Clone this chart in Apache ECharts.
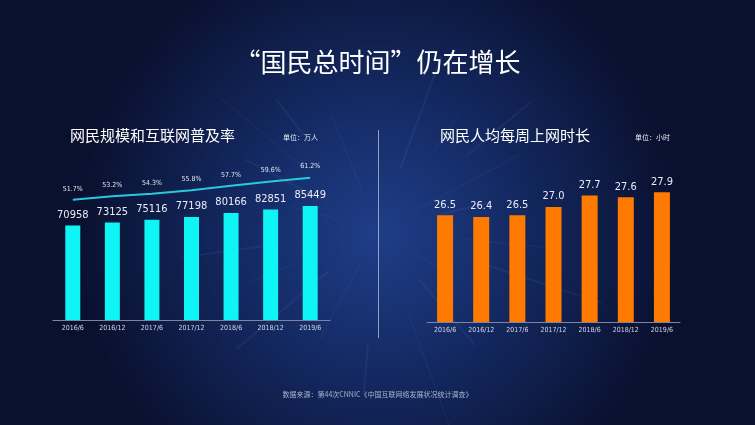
<!DOCTYPE html>
<html>
<head>
<meta charset="utf-8">
<script src="https://cdn.jsdelivr.net/npm/echarts@6/dist/echarts.min.js"></script>
<style>
  html, body { margin: 0; padding: 0; background: #0b1230; }
  #main { width: 755px; height: 425px; }
</style>
</head>
<body>
<div id="main"></div>
<script>
// 数据
const periods = ['2016/6', '2016/12', '2017/6', '2017/12', '2018/6', '2018/12', '2019/6'];
const netizens = [70958, 73125, 75116, 77198, 80166, 82851, 85449];   // 万人
const penetration = [51.7, 53.2, 54.3, 55.8, 57.7, 59.6, 61.2];      // %
const weeklyHours = [26.5, 26.4, 26.5, 27.0, 27.7, 27.6, 27.9];      // 小时

const chart = echarts.init(document.getElementById('main'));

const CJK = '"Noto Sans CJK SC", "Microsoft YaHei", sans-serif';
const NARROW = '"DejaVu Sans Condensed", "Liberation Sans Narrow", sans-serif';

// 背景放射线（装饰）
const streaks = [];
const cx = 378, cy = 230;
const angles = [-165, -152, -140, -128, -112, -70, -55, -40, -28, -14, 6, 18, 32, 50, 70, 95, 118, 140, 158, 172];
angles.forEach(function(a, i) {
    const r = a * Math.PI / 180;
    const r0 = 40 + (i % 4) * 25;
    const r1 = r0 + 50 + (i % 3) * 35;
    streaks.push({
        type: 'line',
        silent: true,
        z: -10,
        shape: {
            x1: cx + Math.cos(r) * r0, y1: cy + Math.sin(r) * r0,
            x2: cx + Math.cos(r) * r1, y2: cy + Math.sin(r) * r1
        },
        style: { stroke: 'rgba(150,190,255,0.07)', lineWidth: 1 + (i % 2) }
    });
});

const axisLabelStyle = {
    color: '#d0d6e6',
    fontSize: 7,
    fontFamily: NARROW,
    margin: 5,
    interval: 0
};

const option = {
    backgroundColor: {
        type: 'radial',
        x: 0.5, y: 0.55, r: 0.7,
        colorStops: [
            {offset: 0, color: '#1f3e88'},
            {offset: 0.45, color: '#142a64'},
            {offset: 1, color: '#0a1130'}
        ]
    },
    animation: false,
    title: [
        {
            text: '“国民总时间”仍在增长',
            left: 'center',
            top: 44,
            textStyle: {color: '#ffffff', fontSize: 26, fontWeight: 'normal', fontFamily: CJK}
        },
        {
            text: '网民规模和互联网普及率',
            left: 65,
            top: 123,
            textStyle: {color: '#ffffff', fontSize: 15, fontWeight: 'normal', fontFamily: CJK}
        },
        {
            text: '单位：万人',
            left: 278,
            top: 129,
            textStyle: {color: '#e6e9f2', fontSize: 7, fontWeight: 'normal', fontFamily: CJK}
        },
        {
            text: '网民人均每周上网时长',
            left: 435,
            top: 123,
            textStyle: {color: '#ffffff', fontSize: 15, fontWeight: 'normal', fontFamily: CJK}
        },
        {
            text: '单位：小时',
            left: 630,
            top: 129,
            textStyle: {color: '#e6e9f2', fontSize: 7, fontWeight: 'normal', fontFamily: CJK}
        },
        {
            text: '数据来源：第44次CNNIC《中国互联网络发展状况统计调查》',
            left: 'center',
            top: 386,
            textStyle: {color: '#aab3cc', fontSize: 7, fontWeight: 'normal', fontFamily: CJK}
        }
    ],
    graphic: streaks.concat([
        {
            type: 'line',
            silent: true,
            shape: {x1: 378.5, y1: 130, x2: 378.5, y2: 338},
            style: {stroke: 'rgba(200,205,220,0.7)', lineWidth: 1}
        }
    ]),
    grid: [
        {left: 53, right: 425, top: 120, bottom: 105},
        {left: 427, right: 75, top: 125, bottom: 103}
    ],
    xAxis: [
        {
            type: 'category',
            gridIndex: 0,
            data: periods,
            axisLine: {lineStyle: {color: '#7d869e', width: 1}},
            axisTick: {show: false},
            axisLabel: axisLabelStyle
        },
        {
            type: 'category',
            gridIndex: 1,
            data: periods,
            axisLine: {lineStyle: {color: '#7d869e', width: 1}},
            axisTick: {show: false},
            axisLabel: axisLabelStyle
        }
    ],
    yAxis: [
        {type: 'value', gridIndex: 0, min: 0, max: 150000, show: false},
        {type: 'value', gridIndex: 0, min: 0, max: 86, show: false},
        {type: 'value', gridIndex: 1, min: 20, max: 32, show: false}
    ],
    series: [
        {
            name: '网民规模',
            type: 'bar',
            xAxisIndex: 0,
            yAxisIndex: 0,
            data: netizens,
            barWidth: 15,
            itemStyle: {color: '#0ff4f4'},
            label: {
                show: true,
                position: 'top',
                distance: 5,
                color: '#e8ecf5',
                fontSize: 11,
                fontFamily: NARROW
            }
        },
        {
            name: '互联网普及率',
            type: 'line',
            xAxisIndex: 0,
            yAxisIndex: 1,
            data: penetration,
            symbol: 'circle',
            symbolSize: 1,
            showSymbol: true,
            itemStyle: {color: 'rgba(41,201,220,0)'},
            lineStyle: {color: '#29c9dc', width: 2},
            label: {
                show: true,
                position: 'top',
                distance: 7,
                formatter: '{c}%',
                color: '#e0e5f0',
                fontSize: 7,
                fontFamily: NARROW
            },
            z: 5
        },
        {
            name: '人均每周上网时长',
            type: 'bar',
            xAxisIndex: 1,
            yAxisIndex: 2,
            data: weeklyHours,
            barWidth: 16,
            itemStyle: {color: '#ff7a00'},
            label: {
                show: true,
                position: 'top',
                distance: 5,
                formatter: function(p) { return p.value.toFixed(1); },
                color: '#e8ecf5',
                fontSize: 11,
                fontFamily: NARROW
            }
        }
    ]
};

chart.setOption(option);
window.addEventListener('resize', function() { chart.resize(); });
</script>
</body>
</html>
